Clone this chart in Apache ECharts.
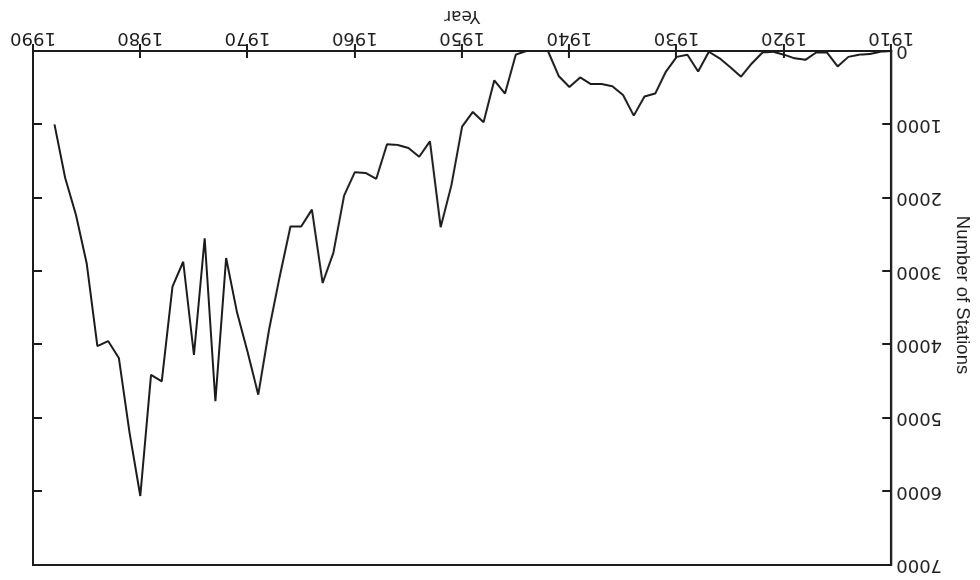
<!DOCTYPE html>
<html>
<head>
<meta charset="utf-8">
<script src="https://cdn.jsdelivr.net/npm/echarts@6/dist/echarts.min.js"></script>
<style>
  html, body { margin: 0; padding: 0; background: #ffffff; }
  /* the figure is printed turned half a circle */
  #chart { width: 980px; height: 580px; transform: rotate(180deg); transform-origin: 50% 50%; }
</style>
</head>
<body>
<div id="chart"></div>
<script>
// Yearly station counts, 1910-1988
const years = [];
for (let y = 1910; y <= 1988; y++) years.push(y);

const stations = [
  0, 10, 40, 50, 80, 210, 20, 20, 120, 100,          // 1910-1919
  50, 10, 20, 170, 350, 220, 100, 10, 280, 50,        // 1920-1929
  80, 280, 580, 620, 880, 600, 480, 450, 450, 360,    // 1930-1939
  490, 340, 0, 0, 0, 50, 580, 400, 970, 830,          // 1940-1949
  1030, 1830, 2400, 1230, 1440, 1320, 1280, 1270, 1740, 1660, // 1950-1959
  1650, 1970, 2750, 3160, 2160, 2390, 2390, 3070, 3800, 4680, // 1960-1969
  4100, 3550, 2820, 4770, 2550, 4140, 2870, 3210, 4500, 4410, // 1970-1979
  6060, 5200, 4180, 3950, 4020, 2890, 2230, 1730, 1000        // 1980-1988
];

const xTicks = { min: 1910, max: 1990, step: 10 };
const yTicks = { min: 0, max: 7000, step: 1000 };

const ink = '#1c1c1c';
const labelFont = { fontFamily: 'DejaVu Sans', fontSize: 18, color: ink };

const chart = echarts.init(document.getElementById('chart'), null, { renderer: 'canvas' });

const plain = v => String(v);

chart.setOption({
  backgroundColor: '#ffffff',
  animation: false,
  grid: {
    left: 87, right: 33, top: 15, bottom: 51,
    show: true, borderColor: ink, borderWidth: 2, backgroundColor: 'transparent'
  },
  xAxis: [
    {
      type: 'value', position: 'bottom',
      min: xTicks.min, max: xTicks.max, interval: xTicks.step,
      name: 'Year', nameLocation: 'middle', nameGap: 27,
      nameTextStyle: Object.assign({}, labelFont, { fontSize: 17 }),
      axisLine: { show: true, lineStyle: { color: ink, width: 2 } },
      axisTick: { show: true, inside: true, length: 7, lineStyle: { color: ink, width: 2 } },
      axisLabel: Object.assign({ margin: 4, formatter: plain }, labelFont),
      splitLine: { show: false }
    },
    {
      type: 'value', position: 'top',
      min: xTicks.min, max: xTicks.max, interval: xTicks.step,
      axisLine: { show: true, lineStyle: { color: ink, width: 2 } },
      axisTick: { show: true, inside: true, length: 7, lineStyle: { color: ink, width: 2 } },
      axisLabel: { show: false },
      splitLine: { show: false }
    }
  ],
  yAxis: [
    {
      type: 'value', position: 'left',
      min: yTicks.min, max: yTicks.max, interval: yTicks.step,
      name: 'Number of Stations', nameLocation: 'middle', nameGap: 60,
      nameTextStyle: {
        fontFamily: "'Liberation Sans Narrow', 'Liberation Sans', sans-serif",
        fontSize: 18.5, color: ink, padding: [0, 26, 0, 0]
      },
      axisLine: { show: true, lineStyle: { color: ink, width: 2 } },
      axisTick: { show: true, inside: true, length: 9, lineStyle: { color: ink, width: 2 } },
      axisLabel: Object.assign({ margin: 5, formatter: plain }, labelFont),
      splitLine: { show: false }
    },
    {
      type: 'value', position: 'right',
      min: yTicks.min, max: yTicks.max, interval: yTicks.step,
      axisLine: { show: true, lineStyle: { color: ink, width: 2 } },
      axisTick: { show: true, inside: true, length: 9, lineStyle: { color: ink, width: 2 } },
      axisLabel: { show: false },
      splitLine: { show: false }
    }
  ],
  series: [
    {
      type: 'line',
      xAxisIndex: 0, yAxisIndex: 0,
      data: years.map((y, i) => [y, stations[i]]),
      showSymbol: false,
      symbol: 'none',
      lineStyle: { color: ink, width: 2 },
      silent: true
    }
  ]
});
</script>
</body>
</html>
